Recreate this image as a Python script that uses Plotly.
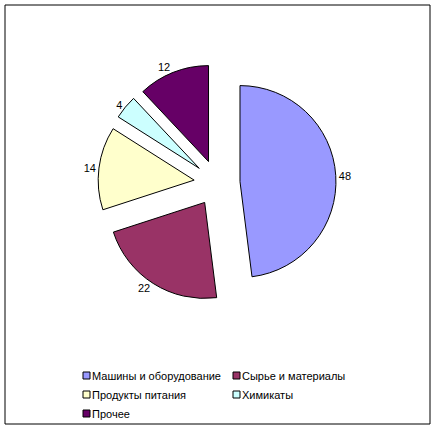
import plotly.graph_objects as go

# Structure of exports by commodity group, %
categories = ["Машины и оборудование", "Сырье и материалы", "Продукты питания", "Химикаты", "Прочее"]
shares = [48, 22, 14, 4, 12]
colors = ["#9999FF", "#993366", "#FFFFCC", "#CCFFFF", "#660066"]

W, H = 437, 433
FONT = "Liberation Sans, Arial, sans-serif"


def px(x):
    return x / W


def py(y):
    return 1 - y / H


# pie centre and size in pixels
cx, cy, half = 217, 183, 119

fig = go.Figure()
fig.add_trace(go.Pie(
    labels=categories,
    values=shares,
    sort=False,
    direction="clockwise",
    rotation=0,
    pull=[0.24] * len(shares),
    marker=dict(colors=colors, line=dict(color="black", width=1)),
    textinfo="value",
    textposition="outside",
    textfont=dict(family=FONT, size=11, color="black"),
    showlegend=False,
    hoverinfo="label+value",
    domain=dict(x=[px(cx - half), px(cx + half)],
                y=[py(cy + half), py(cy - half)]),
))

# two-column legend below the pie: square swatch + label
LEG_X0, LEG_Y0 = 83, 375.5      # first swatch left edge, first row centre
COL_STEP, ROW_STEP, SW = 150, 19, 7
shapes, annotations = [], []
for i, (name, col) in enumerate(zip(categories, colors)):
    c, r = i % 2, i // 2
    x0 = LEG_X0 + c * COL_STEP
    yc = LEG_Y0 + r * ROW_STEP
    shapes.append(dict(type="rect", xref="paper", yref="paper",
                       x0=px(x0), x1=px(x0 + SW), y0=py(yc + SW / 2), y1=py(yc - SW / 2),
                       fillcolor=col, line=dict(color="black", width=1)))
    annotations.append(dict(xref="paper", yref="paper", x=px(x0 + SW), y=py(yc),
                            xanchor="left", yanchor="middle", showarrow=False,
                            text=name, font=dict(family=FONT, size=11, color="black")))

# outer frame
shapes.append(dict(type="rect", xref="paper", yref="paper",
                   x0=px(5), x1=px(430), y0=py(424), y1=py(5),
                   line=dict(color="black", width=1), fillcolor="rgba(0,0,0,0)"))

fig.update_layout(
    width=W, height=H,
    margin=dict(l=0, r=0, t=0, b=0),
    paper_bgcolor="white", plot_bgcolor="white",
    font=dict(family=FONT, size=11, color="black"),
    showlegend=False,
    shapes=shapes,
    annotations=annotations,
)

fig.write_html("out.html")
